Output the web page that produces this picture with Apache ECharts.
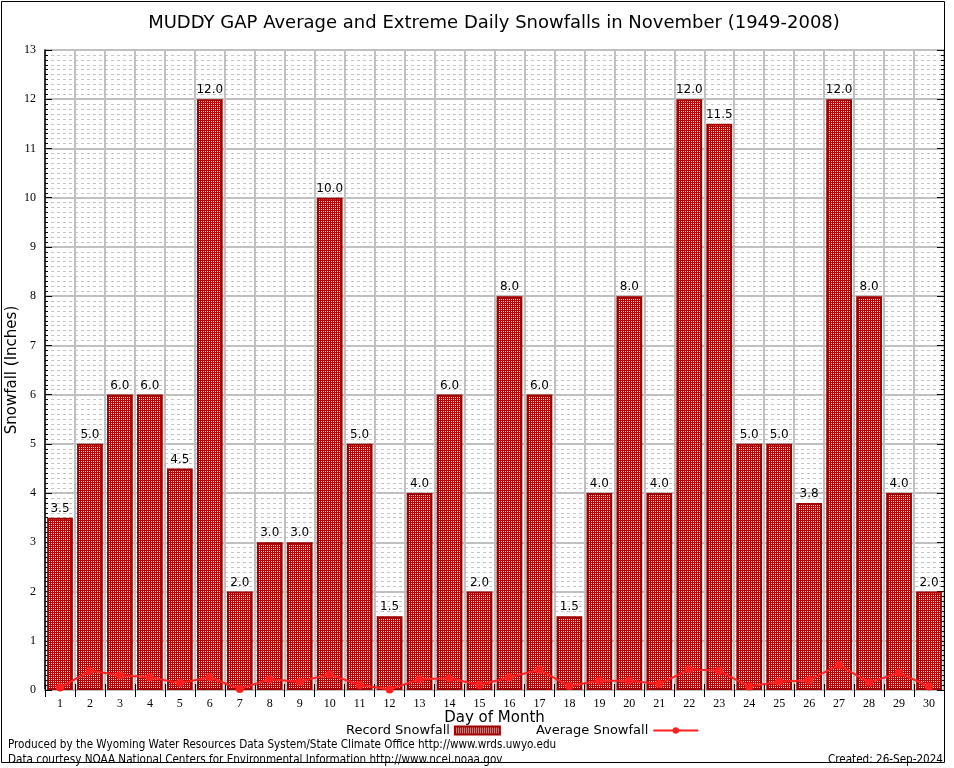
<!DOCTYPE html>
<html>
<head>
<meta charset="utf-8">
<script src="https://cdn.jsdelivr.net/npm/echarts@6/dist/echarts.min.js"></script>
<style>html,body{margin:0;padding:0;background:#fff;}#c{width:954px;height:768px;}</style>
</head>
<body>
<div id="c"></div>
<script>
const days = ['1','2','3','4','5','6','7','8','9','10','11','12','13','14','15','16','17','18','19','20','21','22','23','24','25','26','27','28','29','30'];
const recordSnow = [3.5,5.0,6.0,6.0,4.5,12.0,2.0,3.0,3.0,10.0,5.0,1.5,4.0,6.0,2.0,8.0,6.0,1.5,4.0,8.0,4.0,12.0,11.5,5.0,5.0,3.8,12.0,8.0,4.0,2.0];
const avgSnow = [0.05,0.39,0.30,0.26,0.14,0.26,0.02,0.22,0.17,0.32,0.10,0.01,0.22,0.24,0.10,0.26,0.41,0.08,0.19,0.19,0.12,0.42,0.39,0.07,0.17,0.20,0.51,0.15,0.35,0.07];
const yTicks = {min:0, max:13, interval:1};

const pc = document.createElement('canvas');
pc.width = 2; pc.height = 2;
const pctx = pc.getContext('2d');
pctx.fillStyle = '#b80000'; pctx.fillRect(0,0,2,2);
pctx.fillStyle = '#ffffff';
pctx.fillRect(1,1,1,1);
const pattern = {image: pc, repeat: 'repeat'};

const chart = echarts.init(document.getElementById('c'), null, {renderer:'canvas', devicePixelRatio: 1});
const serif = 'Liberation Serif';
const sans = 'DejaVu Sans';
chart.setOption({
  backgroundColor: '#fff',
  animation: false,
  title: {
    text: 'MUDDY GAP Average and Extreme Daily Snowfalls in November (1949-2008)',
    left: 489, top: 9, textAlign: 'center',
    textStyle: {fontFamily: sans, fontSize: 18, fontWeight: 'normal', color: '#000'}
  },
  legend: {
    left: 341, top: 719, align: 'right', itemWidth: 45, itemHeight: 8, itemGap: 35,
    textStyle: {fontFamily: sans, fontSize: 13, color: '#000'},
    data: [{name: 'Record Snowfall', icon: 'rect'}, {name: 'Average Snowfall'}]
  },
  grid: {left: 45, right: 10, top: 50, bottom: 78, containLabel: false, outerBoundsMode: 'none'},
  xAxis: [{
    type: 'category', data: days, position: 'bottom',
    name: 'Day of Month', nameLocation: 'middle', nameGap: 21, nameMoveOverlap: false,
    nameTextStyle: {fontFamily: sans, fontSize: 15, color: '#000'},
    axisLine: {lineStyle: {color: '#000', width: 1.5}},
    axisTick: {show: true, inside: true, length: 6, interval: 0, lineStyle: {color: '#000'}},
    axisLabel: {fontFamily: serif, fontSize: 12, color: '#000', margin: 8, interval: 0},
    splitLine: {show: true, interval: 0, lineStyle: {color: '#c0c0c0', width: 2}}
  }, {
    type: 'category', data: days, position: 'top',
    axisLine: {lineStyle: {color: '#c0c0c0', width: 2}},
    axisTick: {show: true, inside: true, length: 7, interval: 0, lineStyle: {color: '#000'}},
    axisLabel: {show: false}, splitLine: {show: false}
  }],
  yAxis: [{
    type: 'value', min: yTicks.min, max: yTicks.max, interval: yTicks.interval, position: 'left',
    name: 'Snowfall (Inches)', nameLocation: 'middle', nameGap: 25, nameMoveOverlap: false,
    nameTextStyle: {fontFamily: sans, fontSize: 15, color: '#000'},
    axisLine: {show: true, lineStyle: {color: '#000', width: 1.5}},
    axisTick: {show: true, inside: true, length: 7, lineStyle: {color: '#000'}},
    minorTick: {show: true, splitNumber: 10, length: 3, lineStyle: {color: '#000'}},
    axisLabel: {fontFamily: serif, fontSize: 12, color: '#000', margin: 9},
    splitLine: {show: true, lineStyle: {color: '#c0c0c0', width: 2}},
    minorSplitLine: {show: true, lineStyle: {color: '#c4c4c4', width: 1, type: [3, 3]}}
  }, {
    type: 'value', min: yTicks.min, max: yTicks.max, interval: yTicks.interval, position: 'right',
    axisLine: {show: true, lineStyle: {color: '#000', width: 1}},
    axisTick: {show: true, inside: true, length: 7, lineStyle: {color: '#000'}},
    minorTick: {show: true, splitNumber: 10, length: 3, lineStyle: {color: '#000'}},
    axisLabel: {show: false}, splitLine: {show: false}
  }],
  series: [{
    name: 'Record Snowfall', type: 'bar', data: recordSnow, barWidth: '86%',
    itemStyle: {color: pattern, borderColor: '#a00000', borderWidth: 2},
    label: {show: true, position: 'top', distance: 3, formatter: p => p.value.toFixed(1),
      fontFamily: sans, fontSize: 12, color: '#000'},
    z: 2
  }, {
    name: 'Average Snowfall', type: 'line', data: avgSnow,
    symbol: 'circle', symbolSize: 8, showSymbol: true, showAllSymbol: true,
    lineStyle: {color: '#ff2020', width: 2}, itemStyle: {color: '#ff2020'},
    z: 5
  }],
  graphic: [
    {type: 'rect', shape: {x: 1.5, y: 1.5, width: 943, height: 761}, style: {fill: 'none', stroke: '#000', lineWidth: 1}, silent: true},
    {type: 'text', left: 8, top: 739, style: {text: 'Produced by the Wyoming Water Resources Data System/State Climate Office http://www.wrds.uwyo.edu', fontFamily: 'DejaVu Sans Condensed', fontSize: 11.6, fill: '#000'}},
    {type: 'text', left: 8, top: 754, style: {text: 'Data courtesy NOAA National Centers for Environmental Information http://www.ncei.noaa.gov', fontFamily: 'DejaVu Sans Condensed', fontSize: 11.6, fill: '#000'}},
    {type: 'text', right: 11, top: 754, style: {text: 'Created: 26-Sep-2024', fontFamily: 'DejaVu Sans Condensed', fontSize: 11.6, fill: '#000'}}
  ]
});
</script>
</body>
</html>
